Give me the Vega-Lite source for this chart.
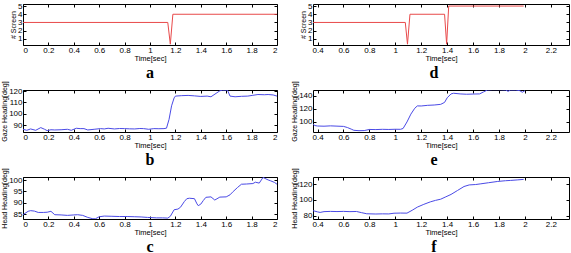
{
  "$schema": "https://vega.github.io/schema/vega-lite/v6.json",
  "padding": {"left": 0, "top": 1, "right": 0, "bottom": 0},
  "background": "white",
  "config": {
    "view": {"stroke": "#000", "strokeWidth": 1},
    "axis": {"labelFont": "Liberation Sans", "labelFontSize": 8, "titleFont": "Liberation Sans", "titleFontSize": 7.5, "titleFontWeight": "normal", "grid": false, "domain": false, "tickSize": -3, "tickColor": "#000", "labelColor": "#000", "titleColor": "#000", "labelPadding": 4},
    "axisX": {"titlePadding": 0},
    "axisY": {"titleFontSize": 7, "titlePadding": 1},
    "title": {"font": "Liberation Serif", "fontSize": 16, "fontWeight": "bold", "orient": "bottom", "color": "#000", "offset": 3, "anchor": "middle"}
  },
  "datasets": {
    "a": [{"t":0,"v":3},{"t":1.14,"v":3},{"t":1.16,"v":0.35},{"t":1.18,"v":4},{"t":2,"v":4}],
    "d": [{"t":0.365,"v":3},{"t":1.077,"v":3},{"t":1.094,"v":0.35},{"t":1.113,"v":4},{"t":1.38,"v":4},{"t":1.396,"v":0.35},{"t":1.412,"v":5},{"t":1.99,"v":5}],
    "b": [{"t":0,"v":86.2},{"t":0.03,"v":85.3},{"t":0.06,"v":86.5},{"t":0.1,"v":85.3},{"t":0.14,"v":87.7},{"t":0.17,"v":86.2},{"t":0.19,"v":85},{"t":0.22,"v":85.8},{"t":0.25,"v":85.6},{"t":0.3,"v":85.8},{"t":0.35,"v":86.2},{"t":0.38,"v":85.3},{"t":0.42,"v":87.1},{"t":0.45,"v":86.8},{"t":0.48,"v":86.8},{"t":0.51,"v":85.6},{"t":0.56,"v":86.2},{"t":0.61,"v":86.8},{"t":0.64,"v":86.5},{"t":0.67,"v":87.1},{"t":0.72,"v":86.5},{"t":0.76,"v":86.9},{"t":0.8,"v":86.8},{"t":0.84,"v":86.6},{"t":0.88,"v":86.5},{"t":0.92,"v":86.9},{"t":0.95,"v":86.8},{"t":0.99,"v":86.2},{"t":1.03,"v":86.8},{"t":1.07,"v":86.7},{"t":1.11,"v":86.8},{"t":1.13,"v":87.2},{"t":1.15,"v":95},{"t":1.17,"v":107},{"t":1.19,"v":114},{"t":1.2,"v":115.6},{"t":1.25,"v":116},{"t":1.3,"v":116.2},{"t":1.35,"v":115.8},{"t":1.4,"v":115.3},{"t":1.45,"v":115.6},{"t":1.48,"v":115},{"t":1.52,"v":118},{"t":1.55,"v":120.3},{"t":1.57,"v":120.9},{"t":1.61,"v":120.9},{"t":1.63,"v":115.6},{"t":1.67,"v":115},{"t":1.72,"v":115.4},{"t":1.77,"v":115.6},{"t":1.81,"v":116.3},{"t":1.85,"v":117},{"t":1.9,"v":116.8},{"t":1.93,"v":117},{"t":1.97,"v":116.6},{"t":2.0,"v":115.6}],
    "e": [{"t":0.365,"v":96.4},{"t":0.38,"v":94.5},{"t":0.4,"v":93.8},{"t":0.45,"v":93.5},{"t":0.5,"v":94},{"t":0.55,"v":93.6},{"t":0.6,"v":93.2},{"t":0.63,"v":91.5},{"t":0.66,"v":89},{"t":0.68,"v":87.2},{"t":0.72,"v":86.6},{"t":0.76,"v":86.8},{"t":0.8,"v":88.5},{"t":0.85,"v":88.3},{"t":0.9,"v":88.7},{"t":0.95,"v":88.5},{"t":1.0,"v":88.8},{"t":1.04,"v":88.7},{"t":1.06,"v":90},{"t":1.09,"v":100},{"t":1.12,"v":112},{"t":1.15,"v":121},{"t":1.17,"v":124.6},{"t":1.2,"v":124.5},{"t":1.25,"v":125.5},{"t":1.3,"v":126},{"t":1.35,"v":127},{"t":1.38,"v":130},{"t":1.4,"v":137},{"t":1.43,"v":143},{"t":1.45,"v":144},{"t":1.5,"v":143},{"t":1.55,"v":142.5},{"t":1.6,"v":142.8},{"t":1.65,"v":143},{"t":1.68,"v":146},{"t":1.71,"v":149},{"t":1.75,"v":149.5},{"t":1.8,"v":149.5},{"t":1.85,"v":149},{"t":1.87,"v":147},{"t":1.89,"v":149},{"t":1.93,"v":149},{"t":1.96,"v":148},{"t":1.98,"v":145.5},{"t":2.0,"v":148}],
    "c": [{"t":0,"v":84.7},{"t":0.04,"v":86.2},{"t":0.06,"v":86.5},{"t":0.09,"v":86.3},{"t":0.12,"v":85.7},{"t":0.16,"v":85.7},{"t":0.19,"v":85.8},{"t":0.22,"v":86.2},{"t":0.25,"v":84.7},{"t":0.3,"v":84.6},{"t":0.35,"v":84.4},{"t":0.4,"v":84.6},{"t":0.43,"v":84.7},{"t":0.47,"v":84.4},{"t":0.51,"v":83.5},{"t":0.55,"v":82.9},{"t":0.57,"v":82.9},{"t":0.6,"v":83.8},{"t":0.64,"v":84.1},{"t":0.7,"v":84.0},{"t":0.76,"v":83.9},{"t":0.82,"v":83.9},{"t":0.88,"v":83.8},{"t":0.93,"v":83.7},{"t":0.98,"v":83.5},{"t":1.05,"v":83.3},{"t":1.1,"v":83.3},{"t":1.14,"v":83.2},{"t":1.16,"v":84},{"t":1.19,"v":86.9},{"t":1.22,"v":87.2},{"t":1.24,"v":88},{"t":1.27,"v":90.5},{"t":1.29,"v":91.8},{"t":1.31,"v":92},{"t":1.35,"v":91.8},{"t":1.37,"v":89.5},{"t":1.38,"v":88.7},{"t":1.4,"v":89.4},{"t":1.42,"v":91},{"t":1.44,"v":92.4},{"t":1.48,"v":92.6},{"t":1.51,"v":91.2},{"t":1.55,"v":92.5},{"t":1.6,"v":92.6},{"t":1.63,"v":93.5},{"t":1.65,"v":94.7},{"t":1.69,"v":96.8},{"t":1.72,"v":98.2},{"t":1.76,"v":98.3},{"t":1.81,"v":98.5},{"t":1.83,"v":99.1},{"t":1.86,"v":98.7},{"t":1.89,"v":101.2},{"t":1.93,"v":100.1},{"t":1.95,"v":99.7},{"t":1.98,"v":99},{"t":2.0,"v":98.2}],
    "f": [{"t":0.365,"v":86.5},{"t":0.4,"v":85},{"t":0.42,"v":84.3},{"t":0.45,"v":85.3},{"t":0.5,"v":85.6},{"t":0.55,"v":85.4},{"t":0.6,"v":85.6},{"t":0.65,"v":85.3},{"t":0.7,"v":85.5},{"t":0.74,"v":84},{"t":0.78,"v":82.6},{"t":0.85,"v":82.3},{"t":0.9,"v":82.5},{"t":0.95,"v":82.4},{"t":0.99,"v":83.3},{"t":1.04,"v":83.5},{"t":1.09,"v":83.4},{"t":1.13,"v":87},{"t":1.17,"v":91},{"t":1.22,"v":94.5},{"t":1.27,"v":97.6},{"t":1.31,"v":99.5},{"t":1.35,"v":101},{"t":1.39,"v":104},{"t":1.43,"v":107},{"t":1.48,"v":112},{"t":1.53,"v":117},{"t":1.57,"v":119},{"t":1.62,"v":119.5},{"t":1.66,"v":120.4},{"t":1.72,"v":121.8},{"t":1.79,"v":123.4},{"t":1.85,"v":124.3},{"t":1.89,"v":124.7},{"t":1.94,"v":125.3},{"t":1.99,"v":126}]
  },
  "columns": 2,
  "align": "each",
  "bounds": "flush",
  "spacing": {"row": 45, "column": 36},
  "concat": [
    {
      "data": {"name": "a"}, "width": 254, "height": 41,
      "title": {"text": "a"},
      "layer": [
        {"mark": {"type": "line", "color": "#e8494a", "strokeWidth": 1, "clip": true},
         "encoding": {
           "x": {"field": "t", "type": "quantitative", "scale": {"domain": [0, 2], "nice": false, "zero": false}, "axis": {"title": "Time[sec]", "values": [0,0.2,0.4,0.6,0.8,1,1.2,1.4,1.6,1.8,2], "format": "~g"}},
           "y": {"field": "v", "type": "quantitative", "scale": {"domain": [0.25, 5.25], "nice": false, "zero": false}, "axis": {"title": "# Screen", "values": [1,2,3,4,5]}}
         }},
        {"mark": {"type": "line", "opacity": 0},
         "encoding": {
           "x": {"field": "t", "type": "quantitative", "axis": {"orient": "top", "labels": false, "title": null, "values": [0,0.2,0.4,0.6,0.8,1,1.2,1.4,1.6,1.8,2]}},
           "y": {"field": "v", "type": "quantitative", "axis": {"orient": "right", "labels": false, "title": null, "values": [1,2,3,4,5]}}
         }}
      ],
      "resolve": {"axis": {"x": "independent", "y": "independent"}}
    },
    {
      "data": {"name": "d"}, "width": 256, "height": 41,
      "title": {"text": "d", "dx": -7},
      "layer": [
        {"mark": {"type": "line", "color": "#e8494a", "strokeWidth": 1, "clip": true},
         "encoding": {
           "x": {"field": "t", "type": "quantitative", "scale": {"domain": [0.365, 2.34], "nice": false, "zero": false}, "axis": {"title": "Time[sec]", "values": [0.4,0.6,0.8,1,1.2,1.4,1.6,1.8,2,2.2], "format": "~g"}},
           "y": {"field": "v", "type": "quantitative", "scale": {"domain": [0.25, 5.25], "nice": false, "zero": false}, "axis": {"title": "# Screen", "values": [1,2,3,4,5]}}
         }},
        {"mark": {"type": "line", "opacity": 0},
         "encoding": {
           "x": {"field": "t", "type": "quantitative", "axis": {"orient": "top", "labels": false, "title": null, "values": [0.4,0.6,0.8,1,1.2,1.4,1.6,1.8,2,2.2]}},
           "y": {"field": "v", "type": "quantitative", "axis": {"orient": "right", "labels": false, "title": null, "values": [1,2,3,4,5]}}
         }}
      ],
      "resolve": {"axis": {"x": "independent", "y": "independent"}}
    },
    {
      "data": {"name": "b"}, "width": 254, "height": 42,
      "title": {"text": "b"},
      "layer": [
        {"mark": {"type": "line", "color": "#4a4ae6", "strokeWidth": 1, "clip": true},
         "encoding": {
           "x": {"field": "t", "type": "quantitative", "scale": {"domain": [0, 2], "nice": false, "zero": false}, "axis": {"title": "Time[sec]", "values": [0,0.2,0.4,0.6,0.8,1,1.2,1.4,1.6,1.8,2], "format": "~g"}},
           "y": {"field": "v", "type": "quantitative", "scale": {"domain": [83.8, 121], "nice": false, "zero": false}, "axis": {"title": "Gaze Heading[deg]", "values": [90,100,110,120]}}
         }},
        {"mark": {"type": "line", "opacity": 0},
         "encoding": {
           "x": {"field": "t", "type": "quantitative", "axis": {"orient": "top", "labels": false, "title": null, "values": [0,0.2,0.4,0.6,0.8,1,1.2,1.4,1.6,1.8,2]}},
           "y": {"field": "v", "type": "quantitative", "axis": {"orient": "right", "labels": false, "title": null, "values": [90,100,110,120]}}
         }}
      ],
      "resolve": {"axis": {"x": "independent", "y": "independent"}}
    },
    {
      "data": {"name": "e"}, "width": 256, "height": 42,
      "title": {"text": "e", "dx": -7},
      "layer": [
        {"mark": {"type": "line", "color": "#4a4ae6", "strokeWidth": 1, "clip": true},
         "encoding": {
           "x": {"field": "t", "type": "quantitative", "scale": {"domain": [0.365, 2.34], "nice": false, "zero": false}, "axis": {"title": "Time[sec]", "values": [0.4,0.6,0.8,1,1.2,1.4,1.6,1.8,2,2.2], "format": "~g"}},
           "y": {"field": "v", "type": "quantitative", "scale": {"domain": [84.6, 149], "nice": false, "zero": false}, "axis": {"title": "Gaze Heading[deg]", "values": [100,120,140]}}
         }},
        {"mark": {"type": "line", "opacity": 0},
         "encoding": {
           "x": {"field": "t", "type": "quantitative", "axis": {"orient": "top", "labels": false, "title": null, "values": [0.4,0.6,0.8,1,1.2,1.4,1.6,1.8,2,2.2]}},
           "y": {"field": "v", "type": "quantitative", "axis": {"orient": "right", "labels": false, "title": null, "values": [100,120,140]}}
         }}
      ],
      "resolve": {"axis": {"x": "independent", "y": "independent"}}
    },
    {
      "data": {"name": "c"}, "width": 254, "height": 42,
      "title": {"text": "c"},
      "layer": [
        {"mark": {"type": "line", "color": "#4a4ae6", "strokeWidth": 1, "clip": true},
         "encoding": {
           "x": {"field": "t", "type": "quantitative", "scale": {"domain": [0, 2], "nice": false, "zero": false}, "axis": {"title": "Time[sec]", "values": [0,0.2,0.4,0.6,0.8,1,1.2,1.4,1.6,1.8,2], "format": "~g"}},
           "y": {"field": "v", "type": "quantitative", "scale": {"domain": [82.8, 101.4], "nice": false, "zero": false}, "axis": {"title": "Head Heading[deg]", "values": [85,90,95,100]}}
         }},
        {"mark": {"type": "line", "opacity": 0},
         "encoding": {
           "x": {"field": "t", "type": "quantitative", "axis": {"orient": "top", "labels": false, "title": null, "values": [0,0.2,0.4,0.6,0.8,1,1.2,1.4,1.6,1.8,2]}},
           "y": {"field": "v", "type": "quantitative", "axis": {"orient": "right", "labels": false, "title": null, "values": [85,90,95,100]}}
         }}
      ],
      "resolve": {"axis": {"x": "independent", "y": "independent"}}
    },
    {
      "data": {"name": "f"}, "width": 256, "height": 42,
      "title": {"text": "f", "dx": -7},
      "layer": [
        {"mark": {"type": "line", "color": "#4a4ae6", "strokeWidth": 1, "clip": true},
         "encoding": {
           "x": {"field": "t", "type": "quantitative", "scale": {"domain": [0.365, 2.34], "nice": false, "zero": false}, "axis": {"title": "Time[sec]", "values": [0.4,0.6,0.8,1,1.2,1.4,1.6,1.8,2,2.2], "format": "~g"}},
           "y": {"field": "v", "type": "quantitative", "scale": {"domain": [76, 129], "nice": false, "zero": false}, "axis": {"title": "Head Heading[deg]", "values": [80,100,120]}}
         }},
        {"mark": {"type": "line", "opacity": 0},
         "encoding": {
           "x": {"field": "t", "type": "quantitative", "axis": {"orient": "top", "labels": false, "title": null, "values": [0.4,0.6,0.8,1,1.2,1.4,1.6,1.8,2,2.2]}},
           "y": {"field": "v", "type": "quantitative", "axis": {"orient": "right", "labels": false, "title": null, "values": [80,100,120]}}
         }}
      ],
      "resolve": {"axis": {"x": "independent", "y": "independent"}}
    }
  ]
}
